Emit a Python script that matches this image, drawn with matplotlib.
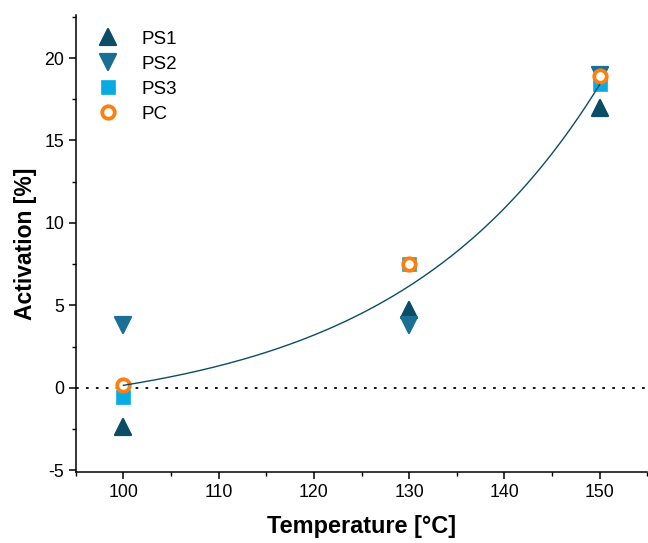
import numpy as np
import matplotlib
matplotlib.use("Agg")
import matplotlib.pyplot as plt
from matplotlib.ticker import MultipleLocator
from matplotlib.markers import MarkerStyle

plt.rcParams['font.family'] = ['Liberation Sans', 'DejaVu Sans']
plt.rcParams['axes.unicode_minus'] = False

temperature = [100, 130, 150]
ps1 = [-2.4, 4.7, 17.0]
ps2 = [3.8, 3.8, 19.0]
ps3 = [-0.55, 7.5, 18.4]
pc = [0.15, 7.5, 18.9]

# exponential fit parameters: y = A*(exp(k*(T-T0)) - 1) + C
fit_A, fit_k, fit_T0, fit_C = 2.0, 0.0463, 100.0, 0.15

c_ps1 = '#0b4d65'
c_ps2 = '#1a6f95'
c_ps3 = '#0aabe2'
c_pc = '#ff7f0e'

fig = plt.figure(figsize=(6.48, 5.43), dpi=100)
ax = fig.add_axes([0.117, 0.131, 0.882, 0.841])

ax.axhline(0, color='black', linestyle=(0, (1.5, 4)), linewidth=1.3, zorder=1)

up = MarkerStyle('^', joinstyle='round')
down = MarkerStyle('v', joinstyle='round')
ax.plot(temperature, ps1, linestyle='none', marker=up, ms=11.5, color=c_ps1,
        mec=c_ps1, mew=1.6, label='PS1', zorder=3)
ax.plot(temperature, ps2, linestyle='none', marker=down, ms=11.5, color=c_ps2,
        mec=c_ps2, mew=1.6, label='PS2', zorder=3)
ax.plot(temperature, ps3, linestyle='none', marker='s', ms=9.8, color=c_ps3,
        mec=c_ps3, mew=0.5, label='PS3', zorder=4)
ax.plot(temperature, pc, linestyle='none', marker='o', ms=9, color=c_pc,
        mfc='white', mec=c_pc, mew=2.7, label='PC', zorder=5)

tt = np.linspace(temperature[0], temperature[-1], 200)
ax.plot(tt, fit_A * (np.exp(fit_k * (tt - fit_T0)) - 1) + fit_C,
        color=c_ps1, linewidth=1.0, zorder=6)

ax.set_xlim(95, 155)
ax.set_ylim(-5.1, 22.6)
ax.xaxis.set_major_locator(MultipleLocator(10))
ax.xaxis.set_minor_locator(MultipleLocator(5))
ax.yaxis.set_major_locator(MultipleLocator(5))
ax.yaxis.set_minor_locator(MultipleLocator(2.5))
ax.spines['top'].set_visible(False)
ax.spines['right'].set_visible(False)
for s in ('left', 'bottom'):
    ax.spines[s].set_linewidth(1.1)
ax.tick_params(which='major', direction='out', length=5, width=1.1, labelsize=12.8)
ax.tick_params(which='minor', direction='out', length=3, width=1.0)
ax.set_xlabel('Temperature [°C]', fontsize=16.9, fontweight='bold', labelpad=10)
ax.set_ylabel('Activation [%]', fontsize=16.5, fontweight='bold', labelpad=5)

ax.legend(loc='upper left', frameon=False, fontsize=13.5, handletextpad=0.8,
          borderaxespad=0.3, labelspacing=0.42, bbox_to_anchor=(0.0, 0.995))

fig.savefig('out.png', dpi=100)
